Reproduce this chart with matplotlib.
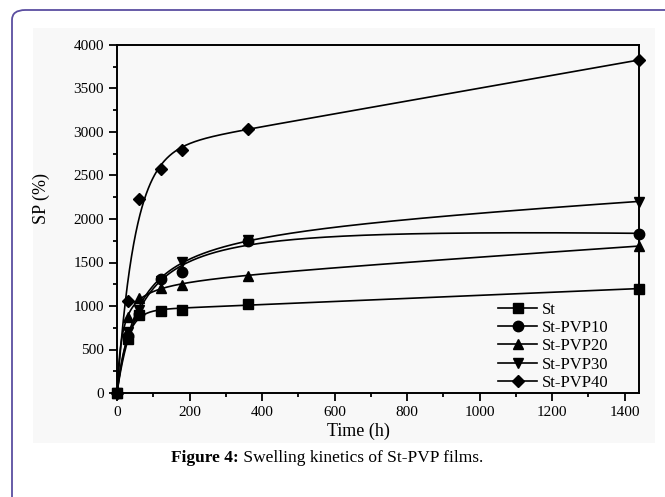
import matplotlib
matplotlib.use('Agg')
import matplotlib.pyplot as plt
from matplotlib.patches import FancyBboxPatch, Rectangle
from matplotlib.ticker import MultipleLocator
import numpy as np

plt.rcParams['font.family'] = ['Liberation Serif', 'DejaVu Serif']

# 数据
t = np.array([0, 30, 60, 120, 180, 360, 1440])
st = np.array([0, 615, 900, 945, 955, 1020, 1200])
pvp10 = np.array([0, 660, 910, 1310, 1395, 1750, 1830])
pvp20 = np.array([0, 870, 1090, 1205, 1240, 1350, 1690])
pvp30 = np.array([0, 700, 950, 1290, 1510, 1760, 2200])
pvp40 = np.array([0, 1060, 2230, 2580, 2790, 3030, 3830])

labels = ['St', 'St-PVP10', 'St-PVP20', 'St-PVP30', 'St-PVP40']
markers = ['s', 'o', '^', 'v', 'D']


# 拟合: y = A*f(t/tau) + k*t, f 取指数或双曲两种形式, 取误差小者
def fit_curve(x, y):
    shapes = [lambda u: 1 - np.exp(-u), lambda u: u / (1 + u)]
    best = None
    for f in shapes:
        for tau in np.linspace(3, 400, 800):
            M = np.column_stack([f(x / tau), x])
            coef = np.linalg.lstsq(M, y, rcond=None)[0]
            err = np.sum((M @ coef - y) ** 2)
            if best is None or err < best[0]:
                best = (err, f, tau, coef)
    _, f, tau, (A, k) = best
    return lambda u: A * f(u / tau) + k * u


fig = plt.figure(figsize=(6.65, 4.97), dpi=100)

# 外框
fig.patches.append(Rectangle((33 / 665, 1 - 443 / 497), 622 / 665, 415 / 497,
                             transform=fig.transFigure, facecolor='#f8f8f8',
                             edgecolor='none', zorder=-5))
fig.patches.append(FancyBboxPatch((12 / 665, -0.2), 1.2, 1 - 10 / 497 + 0.2,
                                  boxstyle='round,pad=0,rounding_size=0.02',
                                  transform=fig.transFigure, facecolor='none',
                                  edgecolor='#5b4ea0', linewidth=1.3, zorder=-4))

ax = fig.add_axes([117 / 665, 1 - 393 / 497, 522 / 665, 348 / 497])
ax.set_facecolor('none')

tt = np.linspace(0, 1440, 1500)
for y, lab, m in zip([st, pvp10, pvp20, pvp30, pvp40], labels, markers):
    curve = fit_curve(t, y)
    ms = 7.5 if m != 'D' else 6.5
    ax.plot(tt, curve(tt), color='black', lw=1.2)
    ax.plot(t, y, linestyle='none', marker=m, color='black',
            markersize=ms, clip_on=False)
    ax.plot([], [], color='black', lw=1.2, marker=m, markersize=ms, label=lab)

ax.set_xlim(0, 1440)
ax.set_ylim(0, 4000)
ax.xaxis.set_major_locator(MultipleLocator(200))
ax.xaxis.set_minor_locator(MultipleLocator(100))
ax.yaxis.set_major_locator(MultipleLocator(500))
ax.yaxis.set_minor_locator(MultipleLocator(250))
ax.tick_params(which='both', direction='out', top=False, right=False,
               labelsize=11, width=1.3)
ax.tick_params(which='major', length=6)
ax.tick_params(which='minor', length=3)
for s in ax.spines.values():
    s.set_linewidth(1.4)

ax.set_xlabel('Time (h)', fontsize=13)
ax.xaxis.set_label_coords((358 - 117) / 522, -0.085)
ax.set_ylabel('SP (%)', fontsize=13)
ax.yaxis.set_label_coords(-0.128, (393 - 199) / 348)

ax.legend(loc='lower right', bbox_to_anchor=(0.97, -0.037), frameon=False,
          fontsize=12, handlelength=2.3, labelspacing=0.14, handletextpad=0.3)

fig.text(0.359, 1 - 458 / 497, 'Figure 4:', fontsize=12.5, fontweight='bold',
         ha='right', va='center')
fig.text(0.359, 1 - 458 / 497, ' Swelling kinetics of St-PVP films.',
         fontsize=12.5, ha='left', va='center')

fig.savefig('out.png', dpi=100)
